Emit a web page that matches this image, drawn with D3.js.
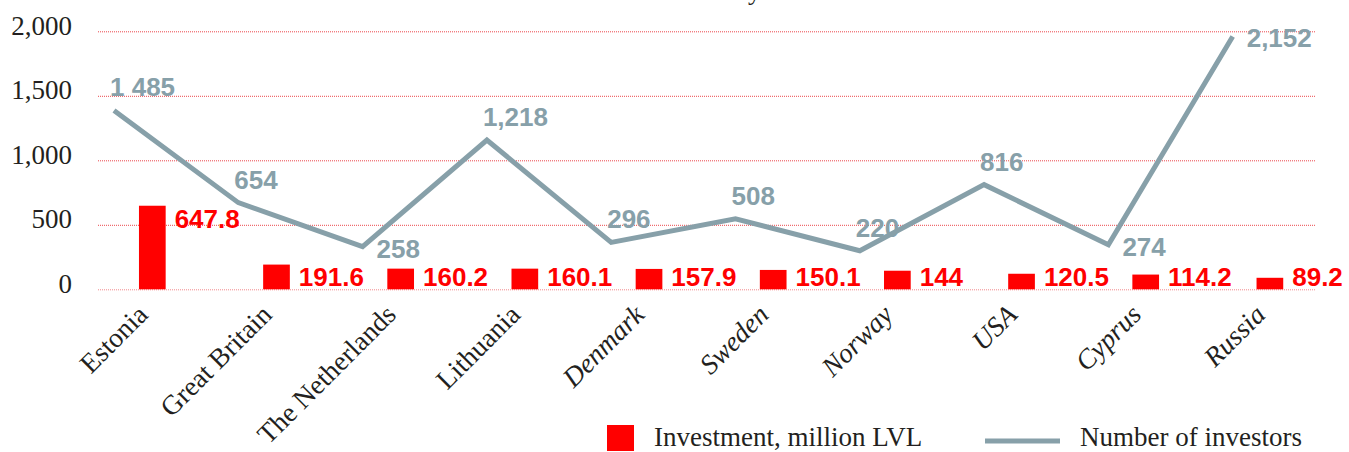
<!DOCTYPE html>
<html>
<head>
<meta charset="utf-8">
<script src="https://cdn.jsdelivr.net/npm/d3@7"></script>
<style>
  body { margin: 0; background: #fff; }
  .serif { font-family: "Liberation Serif", "Times New Roman", serif; fill: #231f20; }
  .val { font-family: "Liberation Sans", Arial, sans-serif; font-weight: bold; font-size: 26px; }
</style>
</head>
<body>
<div id="vis"></div>
<script>
// data
const CATEGORIES = ["Estonia", "Great Britain", "The Netherlands", "Lithuania", "Denmark",
                    "Sweden", "Norway", "USA", "Cyprus", "Russia"];
const INVESTMENT = [647.8, 191.6, 160.2, 160.1, 157.9, 150.1, 144, 120.5, 114.2, 89.2];
const INVESTMENT_LABELS = ["647.8", "191.6", "160.2", "160.1", "157.9", "150.1", "144", "120.5", "114.2", "89.2"];
const INVESTORS = [1485, 654, 258, 1218, 296, 508, 220, 816, 274, 2152];
const INVESTOR_LABELS = ["1 485", "654", "258", "1,218", "296", "508", "220", "816", "274", "2,152"];
const Y_TICKS = [0, 500, 1000, 1500, 2000];
const ITALIC_CATS = ["Denmark", "Sweden", "Norway", "USA", "Cyprus", "Russia"];

// where each investor label sits relative to its point
const LABEL_SIDE = ["above", "above", "below", "above", "above", "above", "above", "above", "below", "below"];

const FRAME_WIDTH = 1349;
const FRAME_HEIGHT = 452;
const RED = "#ff0000";
const GREY = "#87a0a9";
const GRID_LEFT = 98, GRID_RIGHT = 1316;

const svg = d3.select("#vis")
  .append("svg")
    .attr("width", FRAME_WIDTH)
    .attr("height", FRAME_HEIGHT);

const Y_SCALE = d3.scaleLinear().domain([0, 2000]).range([289.3, 31.3]);
// the investor line is drawn on its own (hidden) axis
const Y_LINE = d3.scaleLinear().domain([0, 2000]).range([275.2, 53.3]);

const X_BAND = d3.scaleBand()
  .domain(CATEGORIES)
  .range([89.3, 1332.9])
  .paddingInner(0.785)
  .paddingOuter(0.4);
const X_LINE = d3.scalePoint().domain(CATEGORIES).range([114, 1232.7]);

// cut-off title descender at the top edge
svg.append("text")
  .attr("class", "serif")
  .attr("x", 748).attr("y", 0)
  .attr("font-size", 26)
  .text("y");

// gridlines
const grid = svg.append("g")
  .attr("transform", "translate(" + GRID_LEFT + ",0)")
  .call(d3.axisRight(Y_SCALE).tickValues(Y_TICKS).tickSize(GRID_RIGHT - GRID_LEFT).tickFormat(""));
grid.select(".domain").remove();
grid.selectAll("line")
  .attr("stroke", "#e8262b")
  .attr("stroke-width", 1)
  .attr("stroke-dasharray", "1,1")
  .attr("opacity", (d) => d === 0 ? 0.55 : 0.85);

// y tick labels
const yAxis = svg.append("g")
  .attr("transform", "translate(72,0)")
  .call(d3.axisLeft(Y_SCALE).tickValues(Y_TICKS).tickSize(0).tickPadding(0).tickFormat(d3.format(",")));
yAxis.select(".domain").remove();
yAxis.selectAll("text")
  .attr("class", "serif")
  .attr("font-size", 27)
  .attr("dy", 3);

// x labels
const xAxis = svg.append("g")
  .attr("transform", "translate(0," + Y_SCALE(0) + ")")
  .call(d3.axisBottom(X_BAND).tickSize(0));
xAxis.select(".domain").remove();
xAxis.selectAll("text")
  .attr("class", "serif")
  .attr("font-size", 27.5)
  .attr("font-style", (d) => ITALIC_CATS.includes(d) ? "italic" : "normal")
  .attr("text-anchor", "end")
  .attr("y", 0).attr("dy", 0)
  .attr("transform", "translate(-3,27) rotate(-45)");

// bars
svg.selectAll(".bar")
  .data(CATEGORIES)
  .enter()
  .append("rect")
    .attr("class", "bar")
    .attr("x", (d) => X_BAND(d))
    .attr("width", X_BAND.bandwidth())
    .attr("y", (d, i) => Y_SCALE(INVESTMENT[i]))
    .attr("height", (d, i) => Y_SCALE(0) - Y_SCALE(INVESTMENT[i]))
    .attr("fill", RED);

svg.selectAll(".barlabel")
  .data(CATEGORIES)
  .enter()
  .append("text")
    .attr("class", "val")
    .attr("fill", RED)
    .attr("x", (d) => X_BAND(d) + X_BAND.bandwidth() + 9)
    .attr("y", (d, i) => Math.min(Y_SCALE(INVESTMENT[i]) + 22, Y_SCALE(0) - 3))
    .text((d, i) => INVESTMENT_LABELS[i]);

// investors line
const line = d3.line()
  .x((d) => X_LINE(d))
  .y((d, i) => Y_LINE(INVESTORS[i]));

svg.append("path")
  .datum(CATEGORIES)
  .attr("d", line)
  .attr("fill", "none")
  .attr("stroke", GREY)
  .attr("stroke-width", 5)
  .attr("stroke-linejoin", "miter");

svg.selectAll(".linelabel")
  .data(CATEGORIES)
  .enter()
  .append("text")
    .attr("class", "val")
    .attr("fill", GREY)
    .attr("x", (d, i) => X_LINE(d) + (LABEL_SIDE[i] === "above" ? -4 : 14))
    .attr("y", (d, i) => Y_LINE(INVESTORS[i]) + (LABEL_SIDE[i] === "above" ? -14 : 11))
    .text((d, i) => INVESTOR_LABELS[i]);

// legend
const legend = svg.append("g");
legend.append("rect")
  .attr("x", 607).attr("y", 425)
  .attr("width", 27).attr("height", 26)
  .attr("fill", RED);
legend.append("text")
  .attr("class", "serif")
  .attr("font-size", 27)
  .attr("x", 654).attr("y", 446)
  .text("Investment, million LVL");
legend.append("line")
  .attr("x1", 985).attr("x2", 1060)
  .attr("y1", 441).attr("y2", 441)
  .attr("stroke", GREY)
  .attr("stroke-width", 5);
legend.append("text")
  .attr("class", "serif")
  .attr("font-size", 27)
  .attr("x", 1080).attr("y", 446)
  .text("Number of investors");
</script>
</body>
</html>
